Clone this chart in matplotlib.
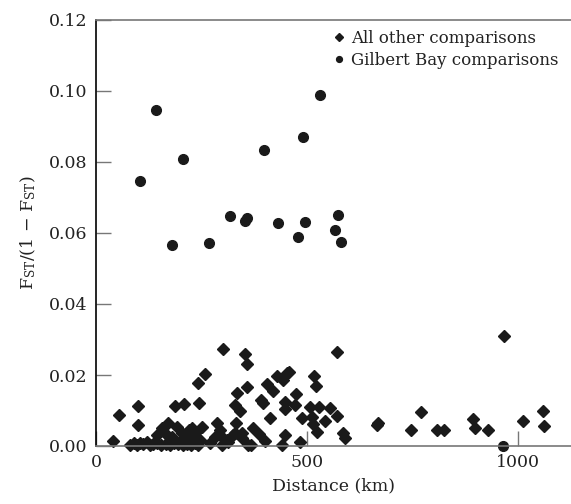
import matplotlib
matplotlib.use("Agg")
import matplotlib.pyplot as plt

plt.rcParams['font.family'] = ['DejaVu Serif']
plt.rcParams['mathtext.fontset'] = 'dejavuserif'

# Gilbert Bay comparisons (distance km, Fst/(1-Fst))
gb_x = [105, 142, 205, 180, 268, 318, 352, 358, 397, 430, 478, 490, 495, 530,
        565, 572, 580, 965]
gb_y = [0.0747, 0.0946, 0.0808, 0.0566, 0.0571, 0.0647, 0.0633, 0.0641, 0.0834,
        0.0628, 0.0588, 0.0871, 0.0630, 0.0989, 0.0608, 0.0652, 0.0574, 0.0000]

# All other comparisons
oth_x = [40, 55, 99, 99,
         80, 90, 98, 105, 112, 120, 128,
         135, 145, 155, 165, 175, 185, 195, 205, 215, 225, 235, 242,
         144, 156, 164, 171, 179, 191, 203, 206, 220, 227, 223, 235, 238, 246, 252,
         187, 209, 243, 241, 258,
         270, 282, 286, 294, 294, 298, 310, 313, 325, 329, 331, 329, 334, 341,
         345, 345, 358, 358, 361, 367, 300, 352,
         373, 385, 390, 396, 400, 404, 411, 420, 428, 440, 444, 448, 448, 448,
         452, 456, 472, 474, 483, 489, 507, 511, 515, 517, 521, 523, 528, 543,
         554, 570, 570, 586, 590,
         665, 668, 746, 769, 808, 825, 893, 897, 928, 967, 1011, 1058, 1060]
oth_y = [0.0013, 0.0086, 0.0113, 0.0058,
         0.0004, 0.0008, 0.0003, 0.0009, 0.0005, 0.0010, 0.0004,
         0.0005, 0.0008, 0.0004, 0.0006, 0.0003, 0.0008, 0.0005, 0.0003, 0.0007,
         0.0004, 0.0009, 0.0003,
         0.0031, 0.0050, 0.0036, 0.0064, 0.0026, 0.0054, 0.0036, 0.0020, 0.0045,
         0.0050, 0.0028, 0.0036, 0.0026, 0.0017, 0.0053,
         0.0114, 0.0118, 0.0122, 0.0178, 0.0203,
         0.0008, 0.0026, 0.0064, 0.0045, 0.0031, 0.0003, 0.0017, 0.0012, 0.0031,
         0.0036, 0.0066, 0.0115, 0.0148, 0.0099,
         0.0038, 0.0022, 0.0165, 0.0232, 0.0003, 0.0003, 0.0274, 0.0258,
         0.0050, 0.0033, 0.0129, 0.0120, 0.0013, 0.0176, 0.0080, 0.0156, 0.0197,
         0.0003, 0.0187, 0.0123, 0.0104, 0.0030,
         0.0205, 0.0209, 0.0115, 0.0146, 0.0012, 0.0080, 0.0110, 0.0083, 0.0062,
         0.0197, 0.0169, 0.0040, 0.0110, 0.0071,
         0.0107, 0.0084, 0.0265, 0.0036, 0.0022,
         0.0059, 0.0066, 0.0045, 0.0096, 0.0045, 0.0045, 0.0075, 0.0050, 0.0045,
         0.0310, 0.0071, 0.0098, 0.0055]

xticks = [0, 500, 1000]
yticks = [0.00, 0.02, 0.04, 0.06, 0.08, 0.10, 0.12]

fig = plt.figure(figsize=(5.71, 5.04), dpi=100)
ax = fig.add_axes([96/571, 1 - 446/504, 1 - 96/571, (446 - 20)/504])

ax.plot(oth_x, oth_y, linestyle='none', marker='D', markersize=6.5,
        color='#1a1a1a', label='All other comparisons', clip_on=False)
ax.plot(gb_x, gb_y, linestyle='none', marker='o', markersize=7,
        color='#1a1a1a', label='Gilbert Bay comparisons', clip_on=False)

ax.set_xlim(0, 1125)
ax.set_ylim(0, 0.12)
ax.set_xticks(xticks)
ax.set_xticklabels([str(t) for t in xticks])
ax.set_yticks(yticks)
ax.set_yticklabels([f"{t:.2f}" for t in yticks])

ax.spines['right'].set_visible(False)
ax.spines['left'].set_color('black')
ax.spines['left'].set_linewidth(1.2)
for s in ['top', 'bottom']:
    ax.spines[s].set_color('#777777')
    ax.spines[s].set_linewidth(1.2)

ax.tick_params(axis='both', direction='in', length=11, width=1.0,
               color='#777777', labelsize=12.5, labelcolor='#222222', pad=6)

ax.set_xlabel('Distance (km)', fontsize=12.5, color='#222222', labelpad=4)
ax.set_ylabel(r'F$_{\mathrm{ST}}$/(1 $-$ F$_{\mathrm{ST}}$)', fontsize=12.5,
              color='#222222', labelpad=8)

leg = ax.legend(loc='upper right', frameon=False, fontsize=12, handlelength=0.6,
                handletextpad=0.4, borderaxespad=0.2, labelspacing=0.3,
                markerscale=0.6, bbox_to_anchor=(0.995, 1.0))
for t in leg.get_texts():
    t.set_color('#222222')

fig.savefig('out.png', dpi=100)
